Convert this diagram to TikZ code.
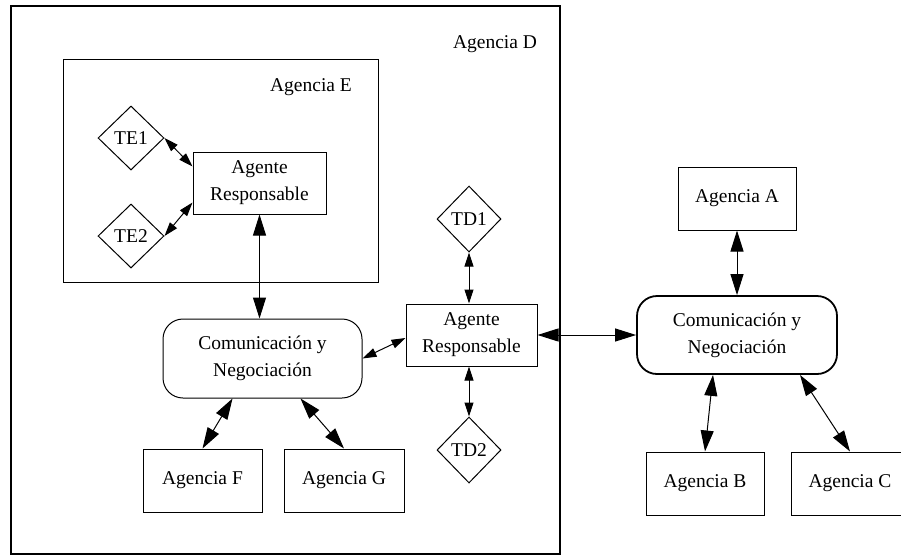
\documentclass[tikz,border=0pt]{standalone}
\usepackage{fontspec}
\setmainfont{Liberation Serif}
\usetikzlibrary{shapes.geometric,arrows.meta}

\tikzset{
  lbl/.style={font=\fontsize{19.5}{27}\selectfont, align=center, inner sep=0pt},
  box/.style={lbl, draw, line width=1pt, rectangle},
  rbox/.style={lbl, draw, line width=1pt, rectangle, rounded corners=20pt},
  dmd/.style={lbl, draw, line width=1pt, diamond, aspect=1,
              minimum width=66pt, minimum height=64pt},
  frame/.style={draw, line width=1pt},
  big/.style={line width=1pt,
              {Triangle[length=21pt,width=13pt]}-{Triangle[length=21pt,width=13pt]}},
  small/.style={line width=1pt,
              {Triangle[length=14pt,width=9pt]}-{Triangle[length=14pt,width=9pt]}},
}

\begin{document}
\begin{tikzpicture}[x=1pt, y=-1pt]
  \useasboundingbox (0,0) rectangle (901,555);
  \clip (0,0) rectangle (901,555);
  \fill[white] (0,0) rectangle (901,555);

  % outer agency D and inner agency E
  \draw[frame, line width=1.8pt] (11,6) rectangle (560,554);
  \node[lbl] (labd) at (495,44) {Agencia D};
  \draw[frame] (63,59) rectangle (378,282);
  \node[lbl] (labe) at (311,87) {Agencia E};

  % agency E contents
  \node[dmd] (te1) at (131,138) {TE1};
  \node[dmd] (te2) at (131,236) {TE2};
  \node[box, minimum width=133pt, minimum height=62pt] (are) at (259.5,183) {Agente\\Responsable};

  % agency D contents
  \node[rbox, minimum width=199pt, minimum height=79pt] (cnd) at (262.5,358.5) {Comunicación y\\Negociación};
  \node[box, minimum width=119pt, minimum height=63pt] (agf) at (202.5,480.5) {Agencia F};
  \node[box, minimum width=120pt, minimum height=63pt] (agg) at (344,480.5) {Agencia G};
  \node[box, minimum width=131pt, minimum height=62pt] (ard) at (471.5,335) {Agente\\Responsable};
  \node[dmd, minimum width=64pt, minimum height=66pt] (td1) at (469,219) {TD1};
  \node[dmd, minimum width=64pt, minimum height=66pt] (td2) at (469,450) {TD2};

  % outside agencies
  \node[rbox, line width=1.8pt, minimum width=200pt, minimum height=78pt] (cna) at (737,335) {Comunicación y\\Negociación};
  \node[box, minimum width=118pt, minimum height=63pt] (aga) at (737,198.5) {Agencia A};
  \node[box, minimum width=118pt, minimum height=63pt] (agb) at (705,483.5) {Agencia B};
  \node[box, minimum width=118pt, minimum height=63pt] (agc) at (850,483.5) {Agencia C};

  % connectors
  \draw[small] (te1.east) -- ([yshift=-15pt]are.north west);
  \draw[small] (te2.east) -- ([yshift=12pt]are.south west);
  \draw[big] (are.south) -- (are.south |- cnd.north);
  \draw[big] ([xshift=-30pt]cnd.south) -- (agf.north);
  \draw[big] ([xshift=38pt]cnd.south) -- (agg.north);
  \draw[small] (cnd.east) -- ([yshift=-3pt]ard.west);
  \draw[small] (td1.south) -- (td1.south |- ard.north);
  \draw[small] (td2.north) -- (td2.north |- ard.south);
  \draw[big] (ard.east) -- (cna.west);
  \draw[big] (aga.south) -- (cna.north);
  \draw[big] ([xshift=-24pt]cna.south) -- (agb.north);
  \draw[big] ([xshift=63pt]cna.south) -- (agc.north);
\end{tikzpicture}
\end{document}
